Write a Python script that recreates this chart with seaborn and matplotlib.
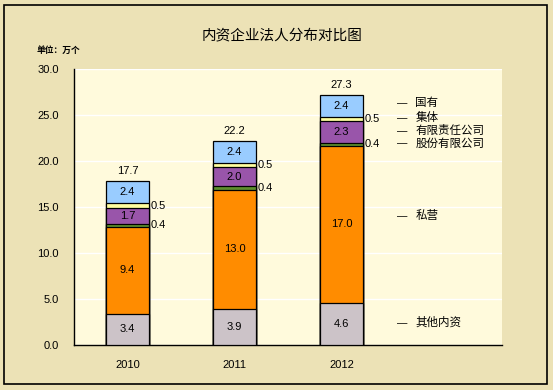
import numpy as np
import pandas as pd
import matplotlib
matplotlib.use('Agg')
import matplotlib.pyplot as plt
import seaborn as sns
from matplotlib.patches import Rectangle

years = ['2010', '2011', '2012']
# segments from bottom to top
series = ['其他内资', '私营', '股份有限公司', '有限责任公司', '集体', '国有']
other = [3.4, 3.9, 4.6]
private = [9.4, 13.0, 17.0]
joint_stock = [0.4, 0.4, 0.4]
limited = [1.7, 2.0, 2.3]
collective = [0.5, 0.5, 0.5]
state = [2.4, 2.4, 2.4]
totals = [17.7, 22.2, 27.3]
colors = ['#CCC3C8', '#FF8C00', '#5E8F2E', '#9955AA', '#FFFFA0', '#99CCFF']
# where the series name sits on the right (y in data units)
label_y = [2.4, 14.0, 21.9, 23.3, 24.7, 26.3]

sns.set_style('white')
plt.rcParams['font.family'] = ['Liberation Sans', 'Noto Sans CJK SC']
plt.rcParams['text.color'] = 'black'
plt.rcParams['xtick.color'] = 'black'
plt.rcParams['ytick.color'] = 'black'
plt.rcParams['xtick.labelcolor'] = 'black'
plt.rcParams['ytick.labelcolor'] = 'black'

values = np.array([other, private, joint_stock, limited, collective, state])
cum = values.cumsum(axis=0)
df = pd.DataFrame(cum.T, columns=series)
df['year'] = years

fig = plt.figure(figsize=(5.53, 3.9), dpi=100)
fig.patch.set_facecolor('#ECE2B6')
fig.add_artist(Rectangle((4 / 553, 6 / 390), 543 / 553, 379 / 390, transform=fig.transFigure,
                         fill=False, edgecolor='black', linewidth=1.2))

ax = fig.add_axes([74 / 553, 45 / 390, 428 / 553, 276 / 390])
ax.set_facecolor('#FFFADC')

# stacked bars drawn as cumulative totals, tallest first
for i in range(len(series) - 1, -1, -1):
    sns.barplot(data=df, x='year', y=series[i], color=colors[i], width=0.4,
                edgecolor='black', linewidth=0.9, saturation=1, ax=ax, zorder=3)

ax.set_xlim(-0.5, 3.5)
ax.set_ylim(0, 30)
ax.set_yticks(np.arange(0, 30.1, 5))
ax.set_yticklabels([f'{v:.1f}' for v in np.arange(0, 30.1, 5)], fontsize=8)
ax.yaxis.grid(True, color='white', linewidth=1)
ax.set_axisbelow(True)
ax.set_xticks([0.5, 1.5, 2.5, 3.5])
ax.set_xticklabels([])
ax.tick_params(axis='x', direction='in', length=3, width=0.9, color='black')
ax.tick_params(axis='y', direction='out', length=3, width=0.9, color='black', pad=8)
ax.set_xlabel('')
ax.set_ylabel('')
for s in ['top', 'right']:
    ax.spines[s].set_visible(False)
for s in ['left', 'bottom']:
    ax.spines[s].set_color('black')
    ax.spines[s].set_linewidth(1)

for j, yr in enumerate(years):
    ax.text(j, -2.2, yr, ha='center', va='center', fontsize=8)

# value labels
for j in range(len(years)):
    bottoms = cum[:, j] - values[:, j]
    for i in range(len(series)):
        v = values[:, j][i]
        mid = bottoms[i] + v / 2
        if v < 1:
            ax.text(j + 0.22, mid, f'{v:.1f}', ha='left', va='center', fontsize=8, zorder=5)
        else:
            ax.text(j, mid, f'{v:.1f}', ha='center', va='center', fontsize=8, zorder=5)
    ax.text(j, cum[-1, j] + 1.1, f'{totals[j]:.1f}', ha='center', va='center', fontsize=8)

# series names on the right
for name, yy in zip(series, label_y):
    ax.text(2.52, yy, '—', ha='left', va='center', fontsize=7.5)
    ax.text(2.69, yy, name, ha='left', va='center', fontsize=8.3)

fig.text(282 / 553, 1 - 35 / 390, '内资企业法人分布对比图', ha='center', va='center', fontsize=10.5)
fig.text(37 / 553, 1 - 50 / 390, '单位：万个', ha='left', va='center', fontsize=6.3,
         fontweight='bold')

fig.savefig('out.png', dpi=100, facecolor=fig.get_facecolor())
